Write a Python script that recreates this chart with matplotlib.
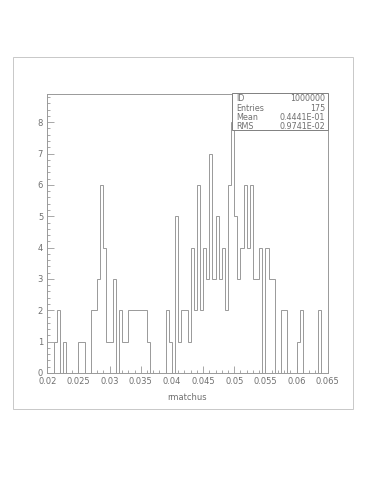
import numpy as np
import matplotlib
matplotlib.use("Agg")
import matplotlib.pyplot as plt
from matplotlib.patches import Rectangle
from matplotlib.ticker import MultipleLocator, FixedLocator

# histogram contents, 90 bins from 0.02 to 0.065
x_low = 0.02
x_high = 0.065
counts = [0, 0, 1, 2, 0, 1, 0, 0, 0, 0,
          1, 1, 0, 0, 2, 2, 3, 6, 4, 1,
          1, 3, 0, 2, 1, 1, 2, 2, 2, 2,
          2, 2, 1, 0, 0, 0, 0, 0, 2, 1,
          0, 5, 1, 2, 2, 1, 4, 2, 6, 2,
          4, 3, 7, 3, 5, 3, 4, 2, 6, 8,
          5, 3, 4, 6, 4, 6, 3, 3, 4, 0,
          4, 3, 3, 0, 0, 2, 2, 0, 0, 0,
          1, 2, 0, 0, 0, 0, 0, 2, 0, 0]

x_ticks = [0.02, 0.025, 0.03, 0.035, 0.04, 0.045, 0.05, 0.055, 0.06, 0.065]
x_labels = ['0.02', '0.025', '0.03', '0.035', '0.04', '0.045', '0.05', '0.055', '0.06', '0.065']
y_ticks = [0, 1, 2, 3, 4, 5, 6, 7, 8]

stat_names = ['ID', 'Entries', 'Mean', 'RMS']
stat_values = ['1000000', '175', '0.4441E-01', '0.9741E-02']
x_title = 'rmatchus'

LINE = '#999999'
TEXT = '#707070'
W, H = 386, 500


def main():
    fig = plt.figure(figsize=(W / 100, H / 100), dpi=100)
    fig.patch.set_facecolor('white')

    # page frame
    fig.patches.append(Rectangle((13 / W, 1 - 409 / H), 340 / W, 352 / H,
                                 transform=fig.transFigure, fill=False,
                                 edgecolor='#c8c8c8', linewidth=0.7))

    left, right, top, bottom = 47.3, 327.7, 94, 373
    ax = fig.add_axes([left / W, 1 - bottom / H, (right - left) / W, (bottom - top) / H])

    edges = np.linspace(x_low, x_high, len(counts) + 1)
    ax.stairs(counts, edges, color=LINE, linewidth=0.7)

    ax.set_xlim(x_low, x_high)
    ax.set_ylim(0, 8.9)

    ax.xaxis.set_major_locator(FixedLocator(x_ticks))
    ax.set_xticklabels(x_labels)
    ax.xaxis.set_minor_locator(MultipleLocator(0.001))
    ax.yaxis.set_major_locator(FixedLocator(y_ticks))
    ax.yaxis.set_minor_locator(MultipleLocator(0.2))

    ax.tick_params(which='both', direction='in', colors=LINE, labelcolor=TEXT,
                   labelsize=6, top=False, right=False, width=0.6)
    ax.tick_params(which='major', length=5, pad=3)
    ax.tick_params(which='minor', length=2.5)
    for s in ax.spines.values():
        s.set_color(LINE)
        s.set_linewidth(0.7)

    fig.text((left + right) / 2 / W, 1 - 398 / H, x_title, ha='center', va='center',
             fontsize=6, color=TEXT)

    # statistics box
    bx0, bx1, by0, by1 = 231.7, 327.7, 93, 130
    fig.patches.append(Rectangle((bx0 / W, 1 - by1 / H), (bx1 - bx0) / W, (by1 - by0) / H,
                                 transform=fig.transFigure, facecolor='white',
                                 edgecolor='#808080', linewidth=0.7, zorder=5))
    rows = [98.5, 108.5, 117.5, 126.5]
    for name, val, yy in zip(stat_names, stat_values, rows):
        fig.text(236 / W, 1 - yy / H, name, ha='left', va='center', fontsize=5.8,
                 color=TEXT, zorder=6)
        fig.text(325 / W, 1 - yy / H, val, ha='right', va='center', fontsize=5.8,
                 color=TEXT, zorder=6)

    fig.savefig('out.png', dpi=100, facecolor='white')


if __name__ == "__main__":
    main()
